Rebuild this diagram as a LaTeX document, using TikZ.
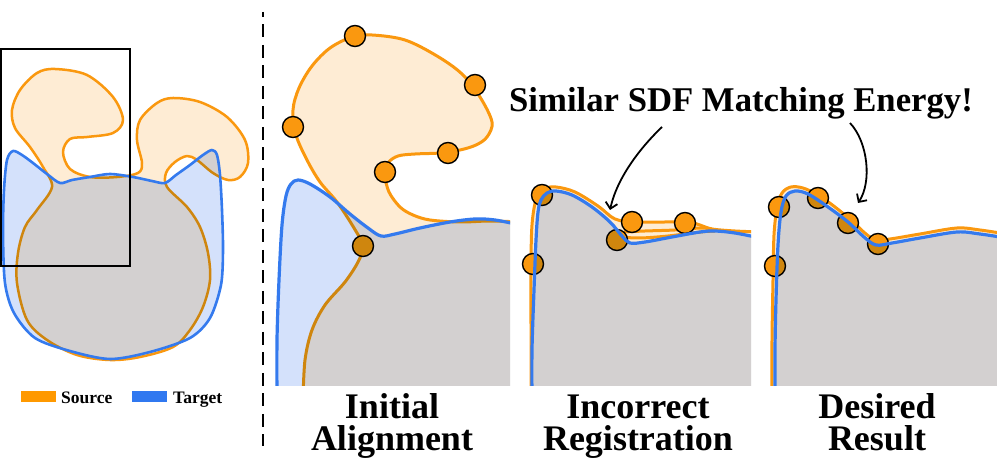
\documentclass[tikz,border=0pt]{standalone}
\usepackage{fontspec}
\setmainfont{Liberation Serif}
\usetikzlibrary{arrows.meta}
\definecolor{srcline}{RGB}{250,152,15}
\definecolor{srcfill}{RGB}{254,236,212}
\definecolor{tgtline}{RGB}{52,122,238}
\definecolor{tgtfill}{RGB}{212,225,251}
\definecolor{swsrc}{RGB}{255,153,0}
\definecolor{swtgt}{RGB}{48,120,240}

\def\SrcZero{plot[smooth cycle, tension=0.55] coordinates {(37,73) (55,69) (87,75) (113,97) (123,120) (113,133) (87,137) (70,139) (63,152) (70,169) (90,177) (117,177) (138,173) (142,163) (137,140) (140,120) (157,103) (173,98) (200,102) (227,117) (245,140) (248,163) (240,177) (228,180) (213,173) (197,160) (187,156) (175,162) (166,173) (167,187) (187,207) (200,227) (208,253) (210,280) (203,307) (190,330) (173,347) (140,357) (110,360) (77,355) (47,340) (27,320) (17,283) (18,253) (25,227) (37,210) (52,187) (43,167) (30,147) (15,128) (12,110) (20,90)}}
\def\TgtZero{plot[smooth cycle, tension=0.5] coordinates {(13,151) (22,155) (33,163) (47,174) (60,183) (72,180) (90,177) (110,174) (133,177) (152,181) (165,183) (176,175) (190,165) (203,155) (212,150) (217,155) (220,175) (222,210) (223,250) (221,285) (210,318) (190,338) (150,352) (110,359) (70,351) (35,338) (14,313) (5,283) (3,233) (4,190) (7,160)}}

\def\SrcOne{plot[smooth, tension=0.55] coordinates {(303,400) (305,360) (312,330) (325,305) (345,282) (358,262) (363,246) (354,228) (337,202) (320,182) (307,160) (296,135) (293,110) (299,88) (312,66) (330,48) (352,37) (372,35) (405,40) (437,56) (462,74) (480,97) (492,122) (487,137) (476,145) (460,150) (440,153) (415,154) (398,156) (388,163) (385,175) (389,192) (400,207) (413,215) (430,220) (460,222) (490,221) (520,222)} -- (520,400) -- cycle}
\def\TgtOne{plot[smooth, tension=0.55] coordinates {(277,400) (277,340) (279,280) (282,225) (286,196) (291,184) (298,180) (310,184) (330,197) (350,214) (368,228) (381,236) (395,234) (420,228) (450,222) (475,219) (495,220) (520,225)} -- (520,400) -- cycle}

\def\SrcTwo{plot[smooth, tension=0.55] coordinates {(531,400) (531,330) (531,265) (532,225) (536,200) (544,189) (556,187) (575,192) (598,206) (615,219) (635,222) (665,222) (688,222) (700,225) (712,229) (735,231) (760,232)} -- (760,400) -- cycle}
\def\TgtTwo{plot[smooth, tension=0.55] coordinates {(532,400) (532,350) (534,290) (536,240) (538,212) (541,200) (547,193) (556,191) (572,195) (592,207) (610,222) (622,236) (630,243) (645,242) (672,237) (700,232) (715,231) (735,233) (760,238)} -- (760,400) -- cycle}

\def\SrcThree{plot[smooth, tension=0.55] coordinates {(772,400) (772,340) (773,280) (774,235) (777,208) (782,193) (791,187) (803,188) (818,195) (835,207) (852,221) (866,234) (876,240) (890,239) (920,234) (957,228) (980,230) (1000,233)} -- (1000,400) -- cycle}
\def\TgtThree{plot[smooth, tension=0.55] coordinates {(775,400) (775,350) (776,300) (778,245) (781,212) (786,196) (795,191) (808,194) (828,207) (848,222) (864,237) (876,245) (892,243) (920,238) (957,232) (980,234) (1000,237)} -- (1000,400) -- cycle}

\tikzset{
  srcln/.style={draw=srcline, line width=3pt, line join=round},
  tgtln/.style={draw=tgtline, line width=3.2pt, line join=round},
  dot/.style={fill=srcline, draw=black, line width=1.4pt},
  lbl/.style={anchor=base, align=center, inner sep=0pt, font=\fontsize{36}{32}\selectfont\bfseries},
  legtxt/.style={anchor=base west, inner sep=0pt, font=\fontsize{17.5}{20}\selectfont\bfseries},
  pointer/.style={-{Straight Barb[length=6pt,width=12pt]}, line width=1.8pt, black}
}

\begin{document}
\begin{tikzpicture}[x=1pt,y=-1pt]
\useasboundingbox (0,0) rectangle (997,462);
\fill[white] (0,0) rectangle (997,462);

% ---- left overview ----
\fill[srcfill] \SrcZero;
\draw[srcln, line width=2.5pt] \SrcZero;
\begin{scope}[blend mode=multiply]
  \fill[tgtfill] \TgtZero;
\end{scope}
\draw[tgtln, line width=2.6pt] \TgtZero;
\draw[black, line width=1.6pt] (1,49) rectangle (130,266);

% legend
\fill[swsrc] (21,391) rectangle (56,402);
\node[legtxt] (srcl) at (61,404) {Source};
\fill[swtgt] (132,391) rectangle (167,402);
\node[legtxt] (tgtl) at (173,404) {Target};

% separator
\draw[black, line width=2.7pt, dash pattern=on 13pt off 7.5pt, dash phase=8pt] (263,12) -- (263,446);

% ---- panel 1 ----
\begin{scope}
  \clip (270,0) rectangle (510,386);
  \fill[srcfill] \SrcOne;
  \draw[srcln] \SrcOne;
  \foreach \p in {(355,36),(475,85),(293,127),(448,153),(385,172),(363,246)}
    \filldraw[dot] \p circle[radius=10.5];
  \begin{scope}[blend mode=multiply]
    \fill[tgtfill] \TgtOne;
  \end{scope}
  \draw[tgtln] \TgtOne;
\end{scope}

% ---- panel 2 ----
\begin{scope}
  \clip (515,0) rectangle (751,386);
  \fill[srcfill] \SrcTwo;
  \draw[srcln] \SrcTwo;
  \draw[srcln] plot[smooth, tension=0.55] coordinates {(624,232) (645,231) (675,230) (700,228) (712,229)};
  \draw[srcln] plot[smooth, tension=0.55] coordinates {(620,237) (640,238) (668,236) (700,232) (715,231)};
  \foreach \p in {(542,195),(533,264),(617,240),(632,222),(685,223)}
    \filldraw[dot] \p circle[radius=10.5];
  \begin{scope}[blend mode=multiply]
    \fill[tgtfill] \TgtTwo;
  \end{scope}
  \draw[tgtln] \TgtTwo;
\end{scope}

% ---- panel 3 ----
\begin{scope}
  \clip (762,0) rectangle (997,386);
  \fill[srcfill] \SrcThree;
  \draw[srcln] \SrcThree;
  \foreach \p in {(779,207),(775,266),(818,198),(848,223),(878,244)}
    \filldraw[dot] \p circle[radius=10.5];
  \begin{scope}[blend mode=multiply]
    \fill[tgtfill] \TgtThree;
  \end{scope}
  \draw[tgtln] \TgtThree;
\end{scope}

% title and pointers
\node[anchor=base, inner sep=0pt, font=\fontsize{34.7}{40}\selectfont\bfseries] (ttl) at (741,112) {Similar SDF Matching Energy!};
\coordinate (a1s) at (662,127);
\coordinate (a1e) at (610,210);
\coordinate (a2s) at (850,123);
\coordinate (a2e) at (858,203);
\draw[pointer] (a1s) .. controls (640,148) and (617,178) .. (a1e);
\draw[pointer] (a2s) .. controls (868,142) and (872,182) .. (a2e);

% labels
\node[lbl] (l1) at (392,450) {Initial\\Alignment};
\node[lbl] (l2) at (638,450) {Incorrect\\Registration};
\node[lbl] (l3) at (877,450) {Desired\\Result};
\end{tikzpicture}
\end{document}
